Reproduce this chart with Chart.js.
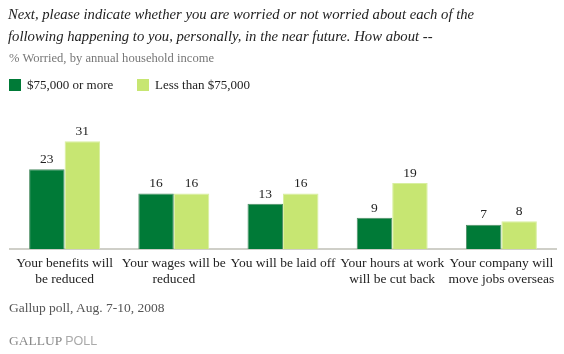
<!DOCTYPE html>
<html>
<head>
<meta charset="utf-8">
<script src="https://cdn.jsdelivr.net/npm/chart.js@4/dist/chart.umd.min.js"></script>
<style>
  body { margin: 0; background: #fff; }
  #wrap { position: relative; width: 564px; height: 354px; overflow: hidden; }
  #chart { position: absolute; left: 0; top: 0; }
  .txt { position: absolute; font-family: "Liberation Serif", serif; white-space: nowrap; }
  #title { left: 8px; top: 3px; font-size: 14.7px; font-style: italic; color: #222; line-height: 22px; }
  #sub { left: 9px; top: 51px; font-size: 12.6px; color: #777; }
  .leg { position: absolute; top: 79px; width: 12px; height: 12px; }
  #foot { left: 9px; top: 300px; font-size: 13.5px; color: #555; }
  #logo { left: 9px; top: 333px; font-size: 13.5px; color: #888; }
  #logo span { font-family: "Liberation Sans", sans-serif; color: #aaa; font-size: 12.5px; }
</style>
</head>
<body>
<div id="wrap">
  <canvas id="chart" width="564" height="354"></canvas>
  <div class="txt" id="title">Next, please indicate whether you are worried or not worried about each of the<br>following happening to you, personally, in the near future. How about --</div>
  <div class="txt" id="sub">% Worried, by annual household income</div>
  <div class="leg" style="left:9px;background:#007a37"></div>
  <div class="txt" style="left:27px;top:77px;font-size:13px;color:#222">$75,000 or more</div>
  <div class="leg" style="left:137px;background:#c7e672"></div>
  <div class="txt" style="left:155px;top:77px;font-size:13px;color:#222">Less than $75,000</div>
  <div class="txt" id="foot">Gallup poll, Aug. 7-10, 2008</div>
  <div class="txt" id="logo">GALLUP <span>POLL</span></div>
</div>
<script>
const categories = [
  ['Your benefits will', 'be reduced'],
  ['Your wages will be', 'reduced'],
  ['You will be laid off'],
  ['Your hours at work', 'will be cut back'],
  ['Your company will', 'move jobs overseas']
];
const seriesNames = ['$75,000 or more', 'Less than $75,000'];
const highIncome = [23, 16, 13, 9, 7];
const lowIncome = [31, 16, 16, 19, 8];

// numbers above each bar
const valueLabels = {
  id: 'valueLabels',
  afterDatasetsDraw(chart) {
    const ctx = chart.ctx;
    ctx.save();
    ctx.font = '13.5px "Liberation Serif"';
    ctx.fillStyle = '#222';
    ctx.textAlign = 'center';
    ctx.textBaseline = 'bottom';
    chart.data.datasets.forEach((ds, i) => {
      chart.getDatasetMeta(i).data.forEach((bar, j) => {
        ctx.fillText(ds.data[j], bar.x, bar.y - 3);
      });
    });
    ctx.restore();
  }
};

new Chart(document.getElementById('chart'), {
  type: 'bar',
  data: {
    labels: categories,
    datasets: [
      { label: seriesNames[0], data: highIncome, backgroundColor: '#007a37', borderColor: '#4f8f66', borderWidth: 1 },
      { label: seriesNames[1], data: lowIncome, backgroundColor: '#c7e672', borderColor: '#d8efa0', borderWidth: 1 }
    ]
  },
  options: {
    responsive: false,
    animation: false,
    devicePixelRatio: 1,
    layout: { padding: { left: 10, right: 8, top: 124, bottom: 65 } },
    plugins: { legend: { display: false }, tooltip: { enabled: false } },
    datasets: { bar: { categoryPercentage: 0.65, barPercentage: 1.0 } },
    scales: {
      x: {
        grid: { display: false, drawTicks: false },
        border: { display: true, color: '#cfcfc8', width: 2 },
        ticks: { color: '#222', padding: 6, font: { family: 'Liberation Serif', size: 13.5 }, maxRotation: 0, autoSkip: false },
        afterFit(scale) { scale.height = 40; }
      },
      y: { display: false, min: 0, max: 36 }
    }
  },
  plugins: [valueLabels]
});
</script>
</body>
</html>
